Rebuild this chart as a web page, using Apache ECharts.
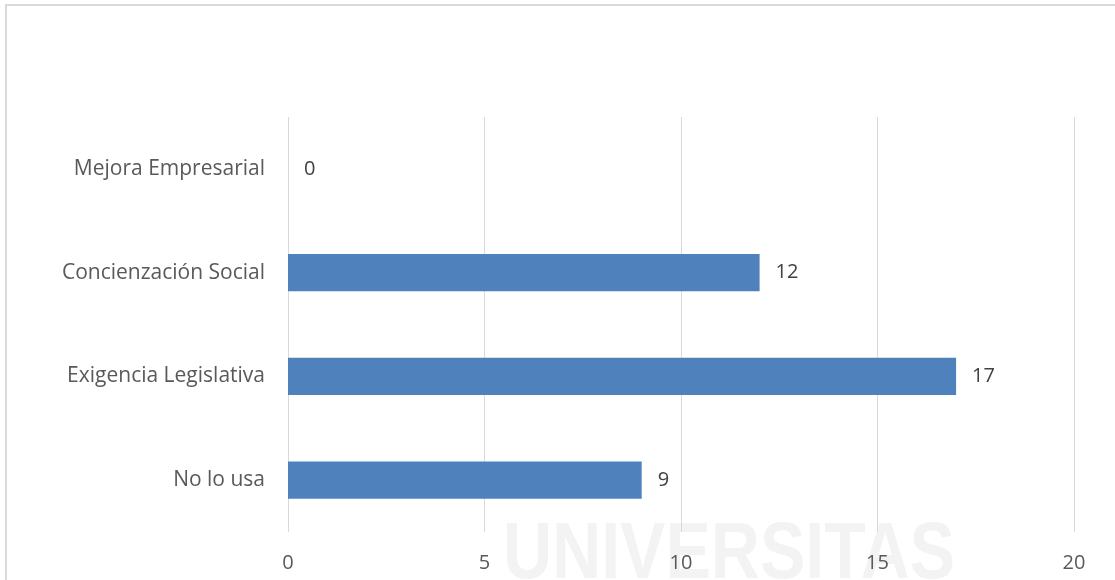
<!DOCTYPE html>
<html>
<head>
<meta charset="utf-8">
<script src="https://cdn.jsdelivr.net/npm/echarts@6/dist/echarts.min.js"></script>
<style>
html,body{margin:0;padding:0;background:#fff;}
#main{width:1115px;height:580px;}
</style>
</head>
<body>
<div id="main"></div>
<script>
const categories = ['No lo usa', 'Exigencia Legislativa', 'Concienzación Social', 'Mejora Empresarial'];
const values = [9, 17, 12, 0];
const xTicks = [0, 5, 10, 15, 20];

const FONT = '"Open Sans", sans-serif';
const chart = echarts.init(document.getElementById('main'));
chart.setOption({
  animation: false,
  backgroundColor: '#ffffff',
  graphic: [
    { type: 'text', z: -10, x: 503, y: 516, scaleX: 0.85,
      style: { text: 'UNIVERSITAS', font: 'bold 80px "Liberation Sans", sans-serif', fill: '#f3f3f3' } },
    { type: 'rect', z: 100, shape: { x: 6, y: 5, width: 1130, height: 600 },
      style: { fill: 'none', stroke: '#d9d9d9', lineWidth: 2 } }
  ],
  grid: { left: 288, right: 41, top: 117, bottom: 48, containLabel: false },
  xAxis: {
    type: 'value', min: 0, max: 20, interval: 5,
    axisLine: { show: false }, axisTick: { show: false },
    splitLine: { lineStyle: { color: '#d9d9d9', width: 1 } },
    axisLabel: { color: '#595959', fontSize: 20, fontFamily: FONT, margin: 21,
      formatter: v => xTicks.includes(v) ? String(v) : '' }
  },
  yAxis: {
    type: 'category', data: categories,
    axisLine: { show: false }, axisTick: { show: false },
    axisLabel: { color: '#595959', fontSize: 21, fontFamily: FONT, margin: 23 }
  },
  series: [{
    type: 'bar', data: values, barWidth: '36%',
    itemStyle: { color: '#4f81bd' },
    label: { show: true, position: 'right', distance: 16, color: '#404040', fontSize: 20, fontFamily: FONT }
  }]
});
</script>
</body>
</html>
